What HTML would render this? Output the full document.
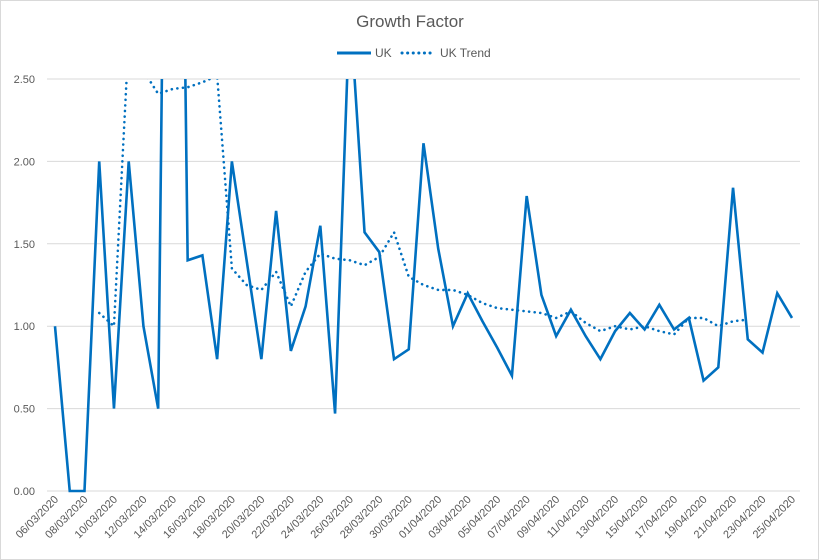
<!DOCTYPE html>
<html><head><meta charset="utf-8"><style>
body{margin:0;background:#fff}
svg{display:block;font-family:"Liberation Sans",sans-serif}
</style></head><body>
<svg id="chart" width="819" height="560">
<rect x="0.5" y="0.5" width="818" height="559" fill="#fff" stroke="#d9d9d9"/>
<text x="410" y="27" text-anchor="middle" font-size="17" fill="#595959">Growth Factor</text>
<g>
<line x1="337" y1="53" x2="371" y2="53" stroke="#0070c0" stroke-width="3"/>
<text x="375" y="57" font-size="12" fill="#595959">UK</text>
<line x1="402" y1="53" x2="434" y2="53" stroke="#0070c0" stroke-width="3" stroke-dasharray="0.1,5.5" stroke-linecap="round"/>
<text x="440" y="57" font-size="12" fill="#595959">UK Trend</text>
</g>
<defs><clipPath id="plot"><rect x="40" y="79" width="770" height="420"/></clipPath></defs>
<g id="grid"></g><g id="yticks"></g><g id="xticks"></g>
<g id="series" clip-path="url(#plot)"></g>
</svg>
<script>
const dates=[];
(function(){const d=new Date(2020,2,6);for(let i=0;i<51;i++){const c=new Date(d);c.setDate(d.getDate()+i);dates.push(String(c.getDate()).padStart(2,'0')+'/'+String(c.getMonth()+1).padStart(2,'0')+'/2020');}})();
const ukValues=[1.00,0,0,2.00,0.50,2.00,1.00,0.50,8.5,1.40,1.43,0.80,2.00,1.40,0.80,1.70,0.85,1.12,1.61,0.47,2.95,1.57,1.45,0.80,0.86,2.11,1.47,1.00,1.20,1.03,0.87,0.70,1.79,1.19,0.94,1.10,0.94,0.80,0.97,1.08,0.98,1.13,0.98,1.05,0.67,0.75,1.84,0.92,0.84,1.20,1.05];
const trendValues=[null,null,null,1.08,1.00,2.75,2.55,2.41,2.44,2.45,2.48,2.52,1.35,1.25,1.22,1.33,1.12,1.33,1.44,1.41,1.40,1.37,1.42,1.57,1.30,1.25,1.22,1.22,1.19,1.14,1.11,1.10,1.09,1.08,1.05,1.09,1.02,0.97,1.00,0.98,1.00,0.97,0.95,1.05,1.05,1.00,1.03,1.04,null,null,null];
const yTicks=[0,0.5,1,1.5,2,2.5];
const NS='http://www.w3.org/2000/svg';
const X0=55,X1=792,Y0=491,Y1=79,YMAX=2.5;
const xs=i=>X0+(X1-X0)*i/(dates.length-1);
const ys=v=>Y0-(Y0-Y1)*v/YMAX;
function mk(t,a,p){const e=document.createElementNS(NS,t);for(const k in a)e.setAttribute(k,a[k]);p.appendChild(e);return e;}
const grid=document.getElementById('grid'),yt=document.getElementById('yticks'),xt=document.getElementById('xticks'),se=document.getElementById('series');
yTicks.forEach(v=>{
 const l=mk('line',{x1:47,x2:800,y1:ys(v),y2:ys(v),stroke:'#d9d9d9','stroke-width':1},grid);
 
 
 const t=mk('text',{x:35,y:ys(v)+4,'text-anchor':'end','font-size':11,fill:'#595959'},yt);
 t.textContent=v.toFixed(2);
 
 
});
dates.forEach((d,i)=>{
 if(i%2)return;
 const x=xs(i)+4,y=500;
 const t=mk('text',{x:x,y:y,'text-anchor':'end','font-size':11,fill:'#595959',transform:`rotate(-45 ${x} ${y})`},xt);
 t.textContent=d;
 
 
});
const p1=mk('polyline',{points:ukValues.map((v,i)=>xs(i)+','+ys(v)).join(' '),fill:'none',stroke:'#0070c0','stroke-width':2.6,'stroke-linejoin':'miter'},se);


const tp=[];trendValues.forEach((v,i)=>{if(v!==null)tp.push(xs(i)+','+ys(v));});
const p2=mk('polyline',{points:tp.join(' '),fill:'none',stroke:'#0070c0','stroke-width':2.6,'stroke-dasharray':'0.1,5.5','stroke-linecap':'round'},se);


</script>
</body></html>
